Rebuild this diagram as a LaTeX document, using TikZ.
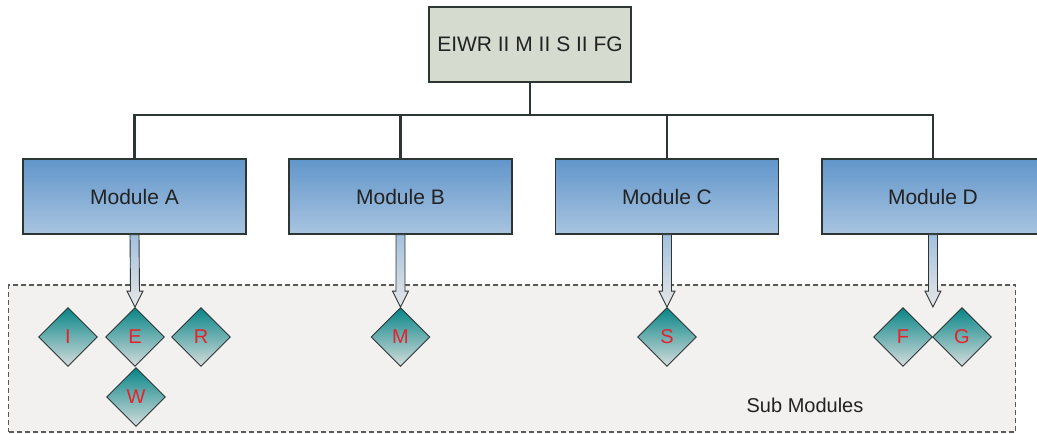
\documentclass[tikz,border=0pt]{standalone}
\usepackage{fontspec}
\setmainfont{Liberation Sans}
\usetikzlibrary{shapes.geometric,calc}

\definecolor{linegray}{HTML}{2E3535}
\definecolor{rootfill}{HTML}{D5DCCF}
\definecolor{modtop}{HTML}{6196CA}
\definecolor{modbot}{HTML}{A9C4E0}
\definecolor{subtop}{HTML}{078587}
\definecolor{subbot}{HTML}{D6DCDC}
\definecolor{subtext}{HTML}{E8212B}
\definecolor{areafill}{HTML}{F3F0F0}
\definecolor{arealine}{HTML}{5A5A5A}
\definecolor{arrtop}{HTML}{A3C0DE}
\definecolor{arrbot}{HTML}{E6E6E6}
\definecolor{txt}{HTML}{222222}

\tikzset{
  rootbox/.style={draw=linegray, line width=1.4pt, fill=rootfill,
    minimum width=202pt, minimum height=75pt, inner sep=0pt,
    font=\fontsize{21}{24}\selectfont, text=txt},
  modbox/.style={draw=linegray, line width=1.4pt, top color=modtop, bottom color=modbot,
    minimum width=223pt, minimum height=75pt, inner sep=0pt,
    font=\fontsize{21}{24}\selectfont, text=txt},
  subnode/.style={diamond, draw=linegray, line width=0.9pt, top color=subtop, bottom color=subbot,
    minimum width=59pt, minimum height=59pt, inner sep=0pt,
    font=\fontsize{20}{24}\selectfont, text=subtext},
  area/.style={draw=arealine, line width=1.2pt, dash pattern=on 5pt off 3pt, fill=areafill},
  conn/.style={draw=linegray, line width=2.4pt},
  hollowarrow/.style={draw=linegray, line width=0.9pt, line join=miter, top color=arrtop, bottom color=arrbot},
}

\newcommand{\downarrowto}[2]{%
  \path[hollowarrow]
    ($(#1)+(-4.5pt,0)$) -- ($(#2)+(-4.5pt,16pt)$) -- ($(#2)+(-8pt,16pt)$) --
    (#2) -- ($(#2)+(8pt,16pt)$) -- ($(#2)+(4.5pt,16pt)$) -- ($(#1)+(4.5pt,0)$) -- cycle;}

\begin{document}
\begin{tikzpicture}[x=1pt,y=1pt]
\useasboundingbox (0,0) rectangle (1037,-434);

% sub module area
\node[area, minimum width=1007pt, minimum height=147pt, inner sep=0pt] (area) at (512,-358.5) {};
\node[font=\fontsize{20}{24}\selectfont, text=txt] (sublabel) at (805,-405) {Sub Modules};

% root and modules
\node[rootbox] (root) at (530,-44.5) {EIWR II M II S II FG};
\node[modbox] (mA) at (134.5,-196.5) {Module A};
\node[modbox] (mB) at (400.5,-196.5) {Module B};
\node[modbox] (mC) at (667,-196.5) {Module C};
\node[modbox, minimum width=222pt] (mD) at (933,-196.5) {Module D};

% bus connecting root to modules
\coordinate (bus) at (530,-115);
\draw[conn] (root.south) -- (bus);
\draw[conn, line join=miter] (mA.north) |- (mD.north |- bus) -- (mD.north);
\draw[conn] (mB.north) -- (mB.north |- bus);
\draw[conn] (mC.north) -- (mC.north |- bus);

% sub modules
\node[subnode] (I) at (68,-337) {I};
\node[subnode] (E) at (135,-337) {E};
\node[subnode] (R) at (201,-337) {R};
\node[subnode] (W) at (136,-397) {W};
\node[subnode] (M) at (400.5,-337) {M};
\node[subnode] (S) at (667,-337) {S};
\node[subnode] (F) at (903,-337) {F};
\node[subnode] (G) at (962,-337) {G};
\coordinate (FG) at (F.east |- F.north);

% hollow arrows from modules to sub modules
\downarrowto{mA.south}{E.north}
\downarrowto{mB.south}{M.north}
\downarrowto{mC.south}{S.north}
\downarrowto{mD.south -| FG}{FG}
\end{tikzpicture}
\end{document}
